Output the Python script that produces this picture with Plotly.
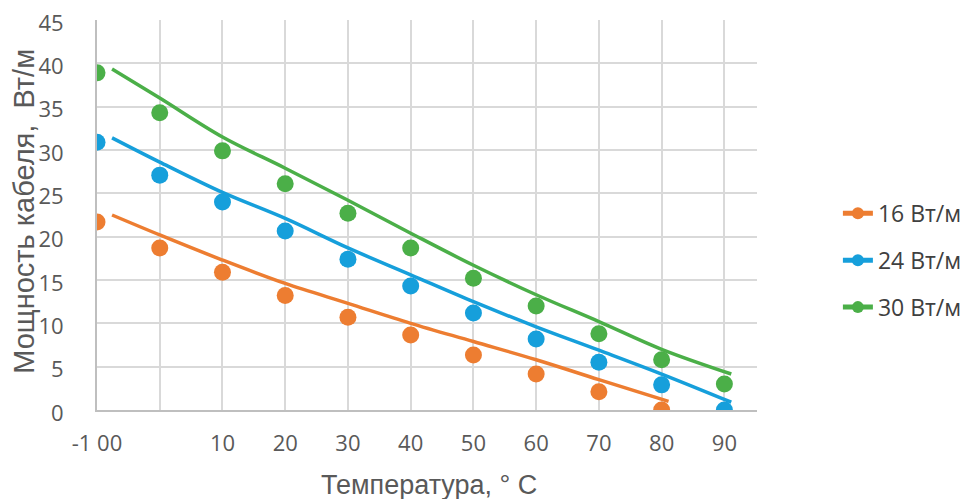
import plotly.graph_objects as go

# Measured points
temps = [-10, 0, 10, 20, 30, 40, 50, 60, 70, 80, 90]
p16 = [21.7, 18.7, 15.9, 13.2, 10.7, 8.65, 6.35, 4.15, 2.1, 0.0]
p24 = [30.9, 27.1, 24.0, 20.65, 17.4, 14.3, 11.2, 8.2, 5.5, 2.9, 0.0]
p30 = [38.9, 34.3, 29.9, 26.1, 22.7, 18.7, 15.2, 12.0, 8.8, 5.8, 3.0]

# Curves (drawn lines)
line16_x = [-7.6, 0, 10, 20, 30, 40, 50, 60, 70, 81.1]
line16_y = [22.5, 20.2, 17.3, 14.6, 12.3, 10.0, 7.9, 5.8, 3.5, 1.0]
line24_x = [-7.6, 0, 10, 20, 30, 40, 50, 60, 70, 80, 91.1]
line24_y = [31.4, 28.6, 25.1, 22.1, 18.7, 15.6, 12.5, 9.6, 6.9, 4.15, 0.9]
line30_x = [-7.6, 0, 10, 20, 30, 40, 50, 60, 70, 80, 91.1]
line30_y = [39.35, 36.0, 31.5, 27.9, 24.2, 20.4, 16.7, 13.3, 10.2, 7.0, 4.15]

names = ["16 Вт/м", "24 Вт/м", "30 Вт/м"]
colors = ["#ED7D31", "#169FDB", "#4BAF48"]

x_tickvals = [-10, 0, 10, 20, 30, 40, 50, 60, 70, 80, 90]
x_ticktext = ["-1 00", "", "10", "20", "30", "40", "50", "60", "70", "80", "90"]
y_tickvals = [0, 5, 10, 15, 20, 25, 30, 35, 40, 45]

x_title = "Температура, ° C"
y_title = "Мощность кабеля,  Вт/м"

FONT = "Open Sans"
TFONT = "Liberation Sans"
fig = go.Figure()
series = [(p16, line16_x, line16_y), (p24, line24_x, line24_y), (p30, line30_x, line30_y)]
for i, ((pts, lx, ly), name, col) in enumerate(zip(series, names, colors)):
    fig.add_trace(go.Scatter(x=lx, y=ly, mode="lines", line=dict(color=col, width=3.5, shape="spline"),
                             showlegend=False, hoverinfo="skip", legendgroup=f"g{i}"))
    fig.add_trace(go.Scatter(x=temps[:len(pts)], y=pts, mode="markers", legendgroup=f"g{i}",
                             marker=dict(color=col, size=17), showlegend=False, name=name))
    # legend entry
    fig.add_trace(go.Scatter(x=[None], y=[None], mode="lines+markers", name=name, legendgroup=f"g{i}",
                             line=dict(color=col, width=3.5), marker=dict(color=col, size=17)))

# The page body has an 8px margin; the figure is sized so it ends at the window edge.
fig.update_layout(
    width=965, height=491,
    margin=dict(l=89, r=216, t=12, b=89, autoexpand=False),
    paper_bgcolor="white", plot_bgcolor="white",
    font=dict(family=FONT, color="#595959", size=22),
    legend=dict(xref="container", yref="container", x=0.86, y=0.486, xanchor="left", yanchor="middle",
                font=dict(size=23, color="#404040"), tracegroupgap=14, itemsizing="constant",
                traceorder="grouped", bgcolor="rgba(0,0,0,0)"),
    xaxis=dict(range=[-10, 95.2], tickvals=x_tickvals, ticktext=x_ticktext, automargin=False,
               showgrid=True, gridcolor="#D9D9D9", gridwidth=2, ticklabeloverflow="allow",
               showline=True, linecolor="#BFBFBF", linewidth=2, zeroline=False,
               ticks="outside", ticklen=13, tickcolor="rgba(0,0,0,0)",
               tickfont=dict(size=22, color="#595959")),
    yaxis=dict(range=[0, 45], tickvals=y_tickvals, showgrid=True, gridcolor="#D9D9D9", gridwidth=2,
               automargin=False, ticklabeloverflow="allow", ticklabelshift=3,
               showline=True, linecolor="#BFBFBF", linewidth=2, zeroline=False,
               ticks="outside", ticklen=27, tickcolor="rgba(0,0,0,0)",
               tickfont=dict(size=22, color="#595959")),
    annotations=[
        dict(text=x_title, xref="paper", yref="paper", x=0.503, y=-0.192, xanchor="center", yanchor="middle",
             showarrow=False, font=dict(family=TFONT, size=27, color="#595959")),
        dict(text=y_title, xref="paper", yref="paper", x=-0.111, y=0.51, xanchor="center", yanchor="middle",
             textangle=-90, showarrow=False, font=dict(family=TFONT, size=29, color="#595959")),
    ],
)
fig.write_html("out.html")
